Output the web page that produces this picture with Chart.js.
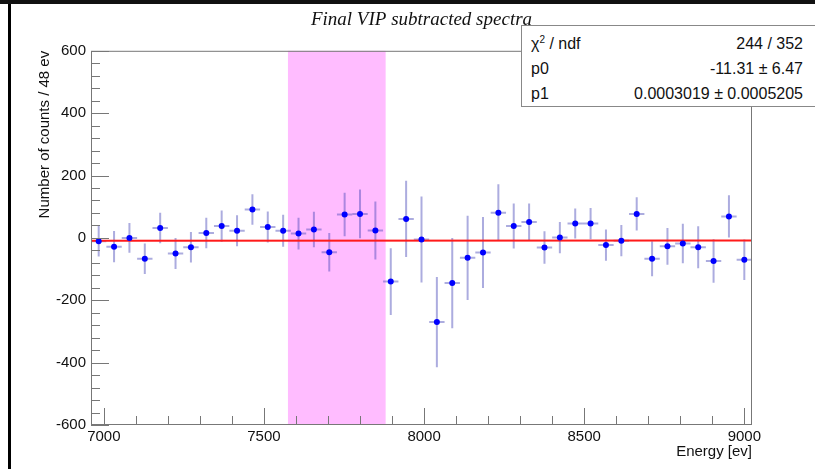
<!DOCTYPE html>
<html>
<head>
<meta charset="utf-8">
<script src="https://cdn.jsdelivr.net/npm/chart.js@4"></script>
<style>
  html, body { margin: 0; padding: 0; background: #fff; }
  #wrap { position: relative; width: 815px; height: 469px; overflow: hidden; }
  #topbar { position: absolute; left: 0; top: 0; width: 815px; height: 4px; background: #111; }
  #leftbar { position: absolute; left: 8px; top: 4px; width: 3px; height: 465px; background: #000; }
  #stats {
    position: absolute; left: 521px; top: 25px; width: 300px; height: 82px;
    border: 1px solid #888; background: #fff; box-sizing: border-box;
    font-family: "Liberation Sans", Arial, sans-serif; font-size: 16px; color: #111;
  }
  .row { position: absolute; left: 9px; width: 272px; height: 20px; line-height: 20px; }
  .row .k { position: absolute; left: 0; }
  .row .v { position: absolute; right: 0; }
  sup { font-size: 10px; vertical-align: 6px; line-height: 0; }
</style>
</head>
<body>
<div id="wrap">
  <canvas id="spectrum" width="815" height="469"></canvas>
  <div id="topbar"></div>
  <div id="leftbar"></div>
  <div id="stats">
    <div class="row" style="top:8px"><span class="k">χ<sup>2</sup> / ndf</span><span class="v">244 / 352</span></div>
    <div class="row" style="top:33px"><span class="k">p0</span><span class="v">-11.31 ± 6.47</span></div>
    <div class="row" style="top:58px"><span class="k">p1</span><span class="v">0.0003019 ± 0.0005205</span></div>
  </div>
</div>
<script>
// Bin centres (48 eV bins) and subtracted counts
const energies = [6984, 7032, 7080, 7128, 7176, 7224, 7272, 7320, 7368, 7416, 7464,
  7512, 7560, 7608, 7656, 7704, 7752, 7800, 7848, 7896, 7944, 7992, 8040, 8088,
  8136, 8184, 8232, 8280, 8328, 8376, 8424, 8472, 8520, 8568, 8616, 8664, 8712,
  8760, 8808, 8856, 8904, 8952, 9000];
const counts = [-11, -28, 0, -67, 32, -50, -30, 16, 38, 23, 91,
  35, 23, 14, 27, -46, 75, 77, 24, -140, 61, -5, -270, -145,
  -64, -47, 81, 38, 51, -31, 1, 46, 46, -23, -9, 77, -67,
  -27, -18, -30, -74, 69, -70];
const countErrors = [49, 50, 48, 49, 49, 50, 49, 49, 50, 50, 49,
  50, 51, 51, 57, 62, 70, 78, 93, 107, 122, 138, 145, 145,
  135, 114, 91, 72, 59, 52, 50, 48, 50, 50, 50, 53, 56,
  59, 63, 67, 70, 68, 65];
const halfBin = 24;

// Linear fit result (p0 + p1 * E) and its range
const fitParams = [-11.31, 0.0003019];
const fitRange = [6960, 9024];

// Highlighted signal region
const bandRange = [7575, 7880];

// Axis ticks
const xTicks = [7000, 7500, 8000, 8500, 9000];
const yTicks = [-600, -400, -200, 0, 200, 400, 600];

const points = energies.map((e, i) => ({ x: e, y: counts[i] }));
const fitLine = fitRange.map(e => ({ x: e, y: fitParams[0] + fitParams[1] * e }));

// pink band + error bars under the markers
const underlay = {
  id: 'underlay',
  beforeDatasetsDraw(chart) {
    const { ctx, chartArea, scales } = chart;
    const x = scales.x, y = scales.y;
    ctx.save();
    ctx.fillStyle = 'rgb(255, 188, 255)';
    const x0 = x.getPixelForValue(bandRange[0]);
    const x1 = x.getPixelForValue(bandRange[1]);
    ctx.fillRect(x0, chartArea.top, x1 - x0, chartArea.bottom - chartArea.top);

    ctx.lineWidth = 2;
    ctx.strokeStyle = 'rgba(70, 70, 185, 0.45)';
    energies.forEach((e, i) => {
      const px = x.getPixelForValue(e);
      const py = y.getPixelForValue(counts[i]);
      ctx.beginPath();
      ctx.moveTo(px, y.getPixelForValue(counts[i] + countErrors[i]));
      ctx.lineTo(px, y.getPixelForValue(counts[i] - countErrors[i]));
      ctx.moveTo(x.getPixelForValue(e - halfBin), py);
      ctx.lineTo(x.getPixelForValue(e + halfBin), py);
      ctx.stroke();
    });
    ctx.restore();
  }
};

// ROOT style frame with ticks pointing inwards
const frame = {
  id: 'frame',
  afterDraw(chart) {
    const { ctx, chartArea, scales } = chart;
    const x = scales.x, y = scales.y;
    ctx.save();
    ctx.strokeStyle = '#777';
    ctx.lineWidth = 1;
    ctx.strokeRect(chartArea.left + 0.5, chartArea.top + 0.5,
      chartArea.right - chartArea.left - 1, chartArea.bottom - chartArea.top - 1);
    ctx.beginPath();
    for (let v = -600; v <= 600; v += 40) {
      const py = Math.round(y.getPixelForValue(v)) + 0.5;
      const len = v % 200 === 0 ? 18 : 9;
      ctx.moveTo(chartArea.left, py);
      ctx.lineTo(chartArea.left + len, py);
    }
    for (let v = 7000; v <= 9000; v += 100) {
      const px = Math.round(x.getPixelForValue(v)) + 0.5;
      const len = v % 500 === 0 ? 17 : 9;
      ctx.moveTo(px, chartArea.bottom);
      ctx.lineTo(px, chartArea.bottom - len);
    }
    ctx.stroke();
    ctx.restore();
  }
};

const tickFont = { family: 'Liberation Sans', size: 15 };

new Chart(document.getElementById('spectrum'), {
  type: 'scatter',
  data: {
    datasets: [
      {
        label: 'fit',
        type: 'line',
        data: fitLine,
        borderColor: '#ff1a1a',
        borderWidth: 2,
        pointRadius: 0,
        order: 2
      },
      {
        label: 'spectrum',
        data: points,
        backgroundColor: '#0000ff',
        borderWidth: 0,
        pointRadius: 3,
        order: 1
      }
    ]
  },
  options: {
    responsive: false,
    animation: false,
    layout: { padding: { left: 0, top: 0, right: 63, bottom: 0 } },
    plugins: {
      legend: { display: false },
      tooltip: { enabled: false },
      title: {
        display: true,
        text: 'Final VIP subtracted spectra',
        fullSize: false,
        color: '#111',
        font: { family: 'Liberation Serif', style: 'italic', size: 19, weight: 'normal' },
        padding: { top: 9, bottom: 19 }
      }
    },
    scales: {
      x: {
        type: 'linear',
        min: fitRange[0],
        max: fitRange[1],
        afterBuildTicks: s => { s.ticks = xTicks.map(v => ({ value: v })); },
        afterFit: s => { s.height = 44; },
        grid: { display: false, drawTicks: false },
        border: { display: false },
        ticks: { color: '#111', font: tickFont, padding: 3, maxRotation: 0, callback: v => String(v) },
        title: {
          display: true,
          text: 'Energy [ev]',
          align: 'end',
          color: '#111',
          font: { family: 'Liberation Sans', size: 15 },
          padding: { top: 0, bottom: 8 }
        }
      },
      y: {
        min: -600,
        max: 600,
        afterBuildTicks: s => { s.ticks = yTicks.map(v => ({ value: v })); },
        afterFit: s => { s.width = 91; },
        grid: { display: false, drawTicks: false },
        border: { display: false },
        ticks: { color: '#111', font: tickFont, padding: 5, callback: v => String(v) },
        title: {
          display: true,
          text: 'Number of counts / 48 ev',
          align: 'end',
          color: '#111',
          font: { family: 'Liberation Sans', size: 15 },
          padding: { top: 36, bottom: 0 }
        }
      }
    }
  },
  plugins: [underlay, frame]
});
</script>
</body>
</html>
